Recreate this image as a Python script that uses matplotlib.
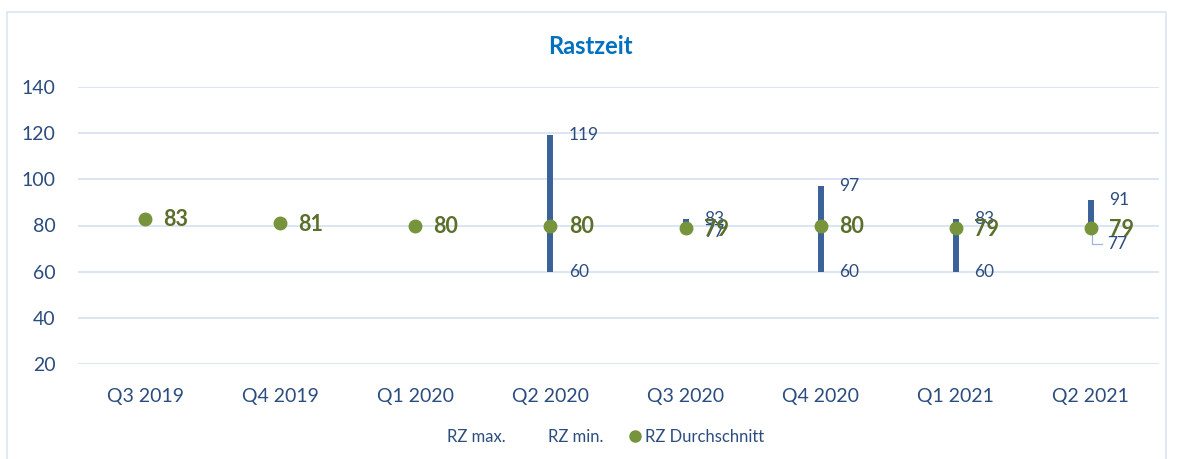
import matplotlib
matplotlib.use("Agg")
from matplotlib import pyplot as plt
from matplotlib.lines import Line2D
from matplotlib.patches import Rectangle
import numpy as np

quarters = ["Q3 2019", "Q4 2019", "Q1 2020", "Q2 2020", "Q3 2020", "Q4 2020", "Q1 2021", "Q2 2021"]
rz_max = [np.nan, np.nan, np.nan, 119, 83, 97, 83, 91]
rz_min = [np.nan, np.nan, np.nan, 60, 77, 60, 60, 77]
rz_avg = [83, 81, 80, 80, 79, 80, 79, 79]
y_ticks = [20, 40, 60, 80, 100, 120, 140]

text_col = "#2B4C7E"
bar_col = "#3A6298"
dot_col = "#77933C"
avg_col = "#5B6F2B"
grid_col = "#D6E1F1"

plt.rcParams["font.family"] = ["Lato", "DejaVu Sans"]

fig = plt.figure(figsize=(11.8, 4.59), dpi=100)
fig.patches.append(Rectangle((7 / 1180, -0.1), (1166 - 7) / 1180, 1.1 - 12 / 459,
                             transform=fig.transFigure, fill=False,
                             edgecolor="#DCE6F2", linewidth=1.2))

ax = fig.add_axes([77.5 / 1180, 1 - 364 / 459, 1081 / 1180, (364 - 87) / 459])
x = np.arange(len(quarters))

ax.vlines(x, rz_min, rz_max, colors=bar_col, linewidth=4.3, zorder=2)
ax.plot(x, rz_avg, linestyle="none", marker="o", markersize=9,
        color=dot_col, zorder=3)

off = 0.135
for i in range(len(quarters)):
    if not np.isnan(rz_max[i]):
        ax.text(i + off, rz_max[i], str(int(rz_max[i])), fontsize=12.5,
                color=text_col, ha="left", va="center", zorder=4)
        if i == len(quarters) - 1:
            # label pushed down with a leader line
            ax.plot([i + 0.01, i + 0.01, i + 0.08], [rz_min[i], rz_min[i] - 5, rz_min[i] - 5],
                    color="#9DB7DC", linewidth=0.9, zorder=1)
            ax.text(i + 0.12, rz_min[i] - 5, str(int(rz_min[i])), fontsize=12.5,
                    color=text_col, ha="left", va="center", zorder=4)
        else:
            ax.text(i + off, rz_min[i], str(int(rz_min[i])), fontsize=12.5,
                    color=text_col, ha="left", va="center", zorder=4)
    ax.text(i + off, rz_avg[i] - 0.6, str(rz_avg[i]), fontsize=15.5, fontweight="bold",
            color=avg_col, ha="left", va="center", zorder=5)

ax.set_xlim(-0.5, len(quarters) - 0.5)
ax.set_ylim(20, 140)
ax.set_yticks(y_ticks)
ax.set_xticks(x)
ax.set_xticklabels(quarters)
ax.tick_params(axis="both", length=0, labelsize=14, labelcolor=text_col)
ax.tick_params(axis="y", pad=16)
ax.tick_params(axis="x", pad=17)
ax.grid(axis="y", color=grid_col, linewidth=1.2, zorder=0)
ax.set_axisbelow(True)
for s in ax.spines.values():
    s.set_visible(False)

fig.text(0.5, 1 - 47 / 459, "Rastzeit", ha="center", va="center",
         fontsize=17, fontweight="bold", color="#0070C0")

handles = [Line2D([], [], linestyle="none"),
           Line2D([], [], linestyle="none"),
           Line2D([], [], linestyle="none", marker="o", markersize=8, color=dot_col)]
leg = fig.legend(handles, ["RZ max.", "RZ min.", "RZ Durchschnitt"], loc="center",
                 bbox_to_anchor=(598 / 1180, 1 - 437 / 459), ncol=3, frameon=False,
                 fontsize=12, handlelength=0.7, handletextpad=0.2, columnspacing=1.6)
for t in leg.get_texts():
    t.set_color(text_col)

fig.savefig("out.png", dpi=100)
